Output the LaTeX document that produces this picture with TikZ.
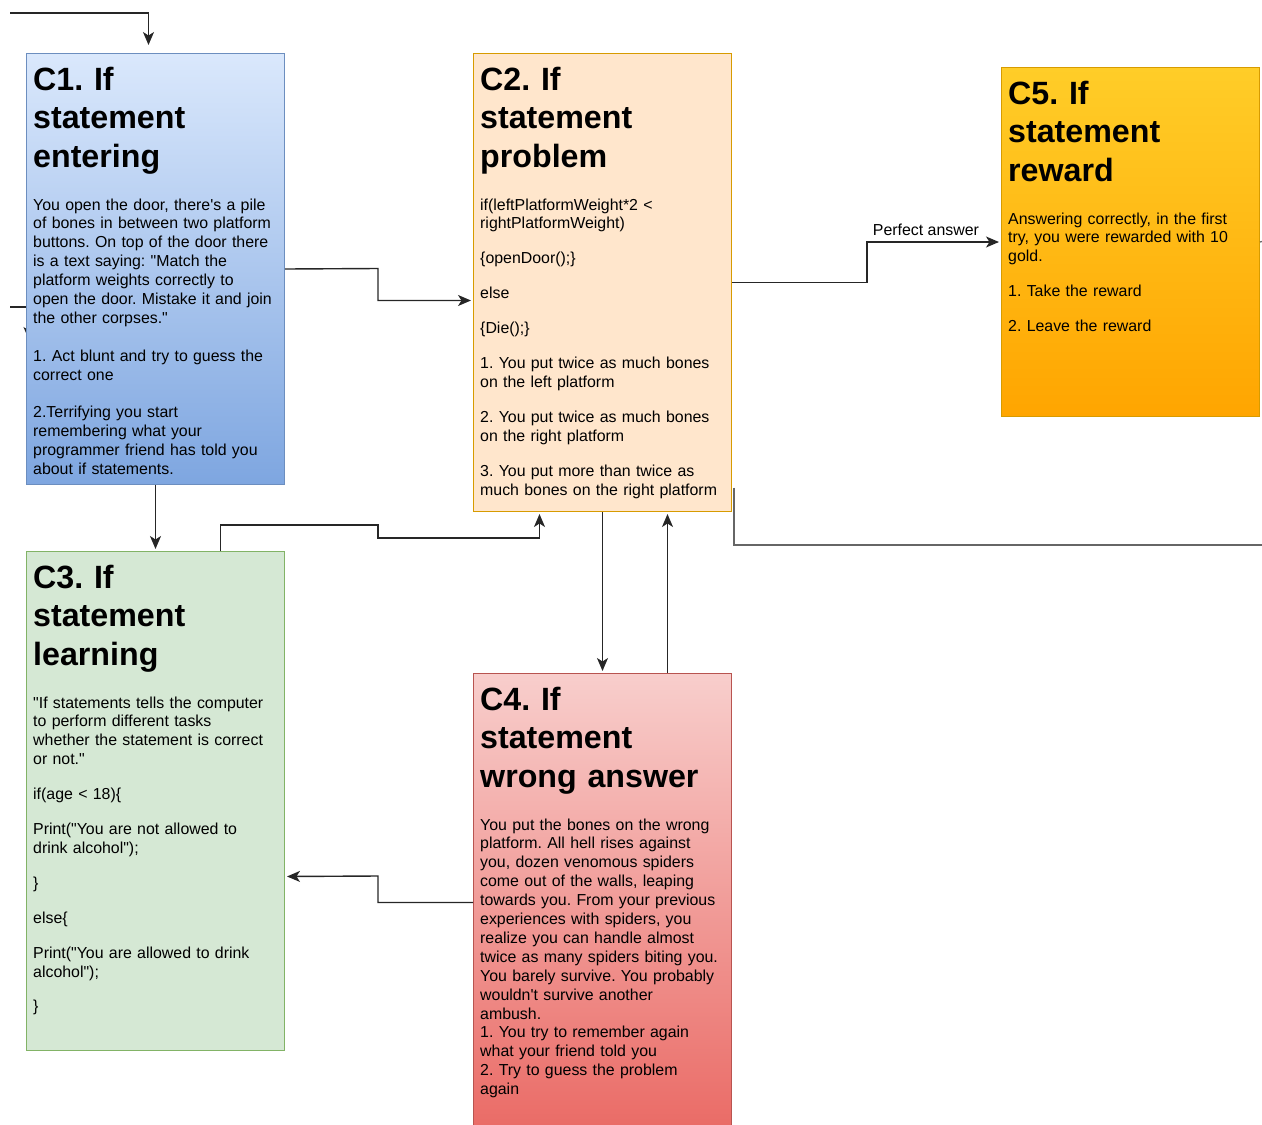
\documentclass[tikz,border=0pt]{standalone}
\usepackage{fontspec}
\setmainfont{Liberation Sans}[Ligatures=TeXOff]
\usetikzlibrary{arrows.meta}
\definecolor{blueT}{HTML}{DAE8FC}
\definecolor{blueB}{HTML}{7EA6E0}
\definecolor{blueS}{HTML}{6C8EBF}
\definecolor{peach}{HTML}{FFE6CC}
\definecolor{peachS}{HTML}{D79B00}
\definecolor{goldT}{HTML}{FFCD28}
\definecolor{goldB}{HTML}{FFA500}
\definecolor{mint}{HTML}{D5E8D4}
\definecolor{mintS}{HTML}{82B366}
\definecolor{roseT}{HTML}{F8CECC}
\definecolor{roseB}{HTML}{EA6B66}
\definecolor{roseS}{HTML}{B85450}
\frenchspacing

\begin{document}
\begin{tikzpicture}[x=1pt,y=-1pt,
  box/.style={line width=1pt, anchor=north west, inner sep=0, minimum width=258pt},
  head/.style={anchor=base west, inner sep=0, text width=250pt, align=left,
    font=\fontsize{32.2}{38.5}\selectfont\bfseries},
  body/.style={anchor=base west, inner sep=0, text width=250pt, align=left,
    font=\fontsize{15.9}{18.9}\selectfont},
  link/.style={draw=black!85, line width=1.4pt, shorten >=2pt,
    -{Stealth[length=13pt,width=11pt,inset=3.5pt]}},
  plain/.style={draw=black!60, line width=1.3pt}]
\useasboundingbox (0,0) rectangle (1262,1125);

\coordinate (in1) at (10,13);
\coordinate (in2) at (10,307);
\coordinate (in2e) at (29,340);
\coordinate (out1) at (1262,241.5);
\coordinate (out2) at (1262,545);
\draw[link, shorten >=0pt] (in2) -| (in2e);

\node[box, draw=blueS, top color=blueT, bottom color=blueB, minimum height=431pt] (c1) at (26,53) {};
\node[box, draw=peachS, fill=peach, minimum height=458pt] (c2) at (473,53) {};
\node[box, draw=peachS, top color=goldT, bottom color=goldB, minimum height=349pt] (c5) at (1001,67) {};
\node[box, draw=mintS, fill=mint, minimum height=499pt] (c3) at (26,551) {};
\node[box, draw=roseS, top color=roseT, bottom color=roseB, minimum height=456pt] (c4) at (473,673) {};

\node[head] (c1h) at ([xshift=7pt,yshift=-37pt]c1.north west) {C1. If\\statement\\entering};
\node[body] (c1b) at ([xshift=7pt,yshift=-157pt]c1.north west) {You open the door, there's a pile\\
of bones in between two platform\\ buttons. On top of the door there\\
is a text saying: "Match the\\ platform weights correctly to\\
open the door. Mistake it and join\\ the other corpses."\\[18.9pt]
1. Act blunt and try to guess the\\ correct one\\[18.9pt]
2.Terrifying you start\\ remembering what your\\
programmer friend has told you\\ about if statements.};

\node[head] (c2h) at ([xshift=7pt,yshift=-37pt]c2.north west) {C2. If\\statement\\problem};
\node[body] (c2b) at ([xshift=7pt,yshift=-157pt]c2.north west) {if(leftPlatformWeight*2 <\\
rightPlatformWeight)\\[16pt] \{openDoor();\}\\[16pt] else\\[16pt] \{Die();\}\\[16pt]
1. You put twice as much bones\\ on the left platform\\[16pt]
2. You put twice as much bones\\ on the right platform\\[16pt]
3. You put more than twice as\\ much bones on the right platform};

\node[head] (c5h) at ([xshift=7pt,yshift=-37pt]c5.north west) {C5. If\\statement\\reward};
\node[body] (c5b) at ([xshift=7pt,yshift=-157pt]c5.north west) {Answering correctly, in the first\\
try, you were rewarded with 10\\ gold.\\[16pt] 1. Take the reward\\[16pt] 2. Leave the reward};

\node[head] (c3h) at ([xshift=7pt,yshift=-37pt]c3.north west) {C3. If\\statement\\learning};
\node[body] (c3b) at ([xshift=7pt,yshift=-157pt]c3.north west) {"If statements tells the computer\\
to perform different tasks\\ whether the statement is correct\\ or not."\\[16pt]
if(age < 18)\{\\[16pt] Print("You are not allowed to\\ drink alcohol");\\[16pt]
\}\\[16pt] else\{\\[16pt] Print("You are allowed to drink\\ alcohol");\\[16pt] \}};

\node[head] (c4h) at ([xshift=7pt,yshift=-37pt]c4.north west) {C4. If\\statement\\wrong answer};
\node[body] (c4b) at ([xshift=7pt,yshift=-157pt]c4.north west) {You put the bones on the wrong\\
platform. All hell rises against\\ you, dozen venomous spiders\\
come out of the walls, leaping\\ towards you. From your previous\\
experiences with spiders, you\\ realize you can handle almost\\
twice as many spiders biting you.\\ You barely survive. You probably\\
wouldn't survive another\\ ambush.\\ 1. You try to remember again\\
what your friend told you\\ 2. Try to guess the problem\\ again};

\draw[link, shorten >=0pt] (in1) -| ([xshift=-7pt,yshift=8pt]c1.north);
\draw[link] (c1.east) -- (378,268.5) |- ([yshift=-18pt]c2.west);
\draw[link] (c1.south) -- (c3.north);
\draw[link] ([xshift=65pt]c3.north) |- (378,525) -- (378,538) -| ([xshift=-63pt]c2.south);
\draw[link] (c2.south) -- (c4.north);
\draw[link] ([xshift=65pt]c4.north) -- ([xshift=65pt]c2.south);
\draw[link] ([yshift=-1pt]c4.west) -| (378,876) -- ([yshift=-75.5pt]c3.east);
\draw[link] (c2.east) -- ++(135,0) |- node[pos=0.72, above, inner sep=6pt,
  font=\fontsize{15.9}{18.9}\selectfont] (pa) {Perfect answer} (c5.west);
\draw[plain] (c5.east) -- (out1);
\draw[plain] ([xshift=2pt,yshift=-205pt]c2.east) |- (out2);
\end{tikzpicture}
\end{document}
